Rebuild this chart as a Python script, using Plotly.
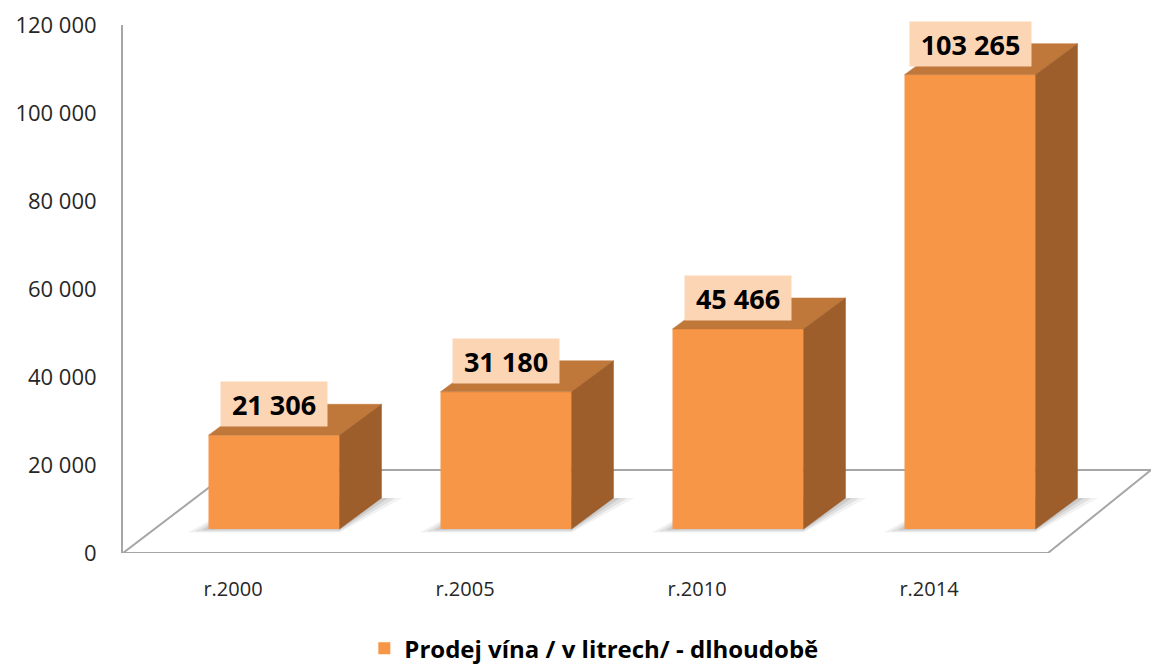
import plotly.graph_objects as go

# ---- data ----
categories = ["r.2000", "r.2005", "r.2010", "r.2014"]
values = [21306, 31180, 45466, 103265]
series_name = "Prodej vína / v litrech/ - dlhoudobě"
y_ticks = [0, 20000, 40000, 60000, 80000, 100000, 120000]

# ---- pseudo-3D geometry (axis units) ----
PX_X = 232.0          # px per category unit
PX_Y = 0.0044         # px per value unit
OFF = 41 / PX_X       # bar front-face centre offset from category tick
HALF = 65.5 / PX_X    # half width of front face
DX = 42 / PX_X        # depth offset (x)
DY = 31 / PX_Y        # depth offset (y)
BASE = 24 / PX_Y      # bars stand in the middle of the floor
X_MIN = (123 - 233) / PX_X
X_MAX = (1151 - 233) / PX_X

FRONT = "#F79646"
TOP = "#C0773A"
SIDE = "#9D5E2B"
LABEL_BG = "#FCD5B5"

xs = list(range(len(categories)))

fig = go.Figure()

# front faces
fig.add_trace(go.Bar(
    x=[i + OFF for i in xs], y=values, base=[BASE] * len(values),
    width=2 * HALF, marker=dict(color=FRONT, line=dict(width=0)),
    name="<b>" + series_name + "</b>", hoverinfo="skip", showlegend=True,
))

# top and side faces
top_x, top_y, side_x, side_y = [], [], [], []
for i, v in zip(xs, values):
    x0, x1 = i + OFF - HALF, i + OFF + HALF
    yt = BASE + v
    top_x += [x0, x1, x1 + DX, x0 + DX, x0, None]
    top_y += [yt, yt, yt + DY, yt + DY, yt, None]
    side_x += [x1, x1 + DX, x1 + DX, x1, x1, None]
    side_y += [BASE, BASE + DY, yt + DY, yt, BASE, None]

fig.add_trace(go.Scatter(x=top_x, y=top_y, fill="toself", fillcolor=TOP,
                         mode="lines", line=dict(width=0.5, color=TOP),
                         hoverinfo="skip", showlegend=False))
fig.add_trace(go.Scatter(x=side_x, y=side_y, fill="toself", fillcolor=SIDE,
                         mode="lines", line=dict(width=0.5, color=SIDE),
                         hoverinfo="skip", showlegend=False))

shapes = []
# floor
fl = (X_MIN, 0)
fr = ((1048 - 233) / PX_X, 0)
br = (X_MAX, 83 / PX_Y)
bl = ((232 - 233) / PX_X, 83 / PX_Y)
shapes.append(dict(type="path", xref="x", yref="y", layer="below",
                   path=f"M {fl[0]} {fl[1]} L {fr[0]} {fr[1]} L {br[0]} {br[1]} L {bl[0]} {bl[1]} Z",
                   line=dict(color="#A6A6A6", width=2), fillcolor="rgba(0,0,0,0)"))
# soft shadows
for i in xs:
    x0, x1 = i + OFF - HALF, i + OFF + HALF
    for k, op in enumerate([0.05, 0.07, 0.09]):
        g = (3 - k) * 7 / PX_X
        gy = (3 - k) * 1.2 / PX_Y
        shapes.append(dict(type="path", xref="x", yref="y", layer="below",
                           path=(f"M {x0 - g} {BASE - gy} L {x1} {BASE - gy} "
                                 f"L {x1 + DX + g} {BASE + DY} L {x0 + DX} {BASE + DY} Z"),
                           line=dict(width=0), fillcolor=f"rgba(0,0,0,{op})"))

# value labels
annotations = []
for i, v in zip(xs, values):
    txt = f"{v:,}".replace(",", " ")
    annotations.append(dict(
        x=i + OFF, y=BASE + v + DY, xref="x", yref="y",
        text="<b>" + txt + "</b>", showarrow=False,
        font=dict(family="Open Sans", size=27, color="#000000"),
        bgcolor=LABEL_BG, borderpad=3, width=15 * len(txt) + 10, height=38,
        xanchor="center", yanchor="middle",
    ))

fig.update_layout(
    width=1152, height=665,
    margin=dict(l=123, r=1, t=25, b=112, autoexpand=False),
    paper_bgcolor="white", plot_bgcolor="white",
    separators=". ",
    font=dict(family="Open Sans", color="#262626"),
    shapes=shapes, annotations=annotations,
    showlegend=True,
    legend=dict(orientation="h", x=0.458, xanchor="center", y=-0.181, yanchor="middle",
                font=dict(family="Open Sans", size=24, color="#000000"),
                bgcolor="rgba(0,0,0,0)", itemsizing="constant"),
    xaxis=dict(range=[X_MIN, X_MAX], tickvals=xs, ticktext=categories,
               showgrid=False, zeroline=False, showline=False, ticks="",
               tickfont=dict(size=20, color="#262626"), ticklabelstandoff=22,
               fixedrange=True),
    yaxis=dict(range=[0, 120000], tickvals=y_ticks, tickformat=",d",
               showgrid=False, zeroline=False, showline=True,
               linecolor="#A6A6A6", linewidth=2, ticks="",
               tickfont=dict(size=22, color="#262626"), ticklabelstandoff=20,
               fixedrange=True),
)

fig.write_html("out.html")
